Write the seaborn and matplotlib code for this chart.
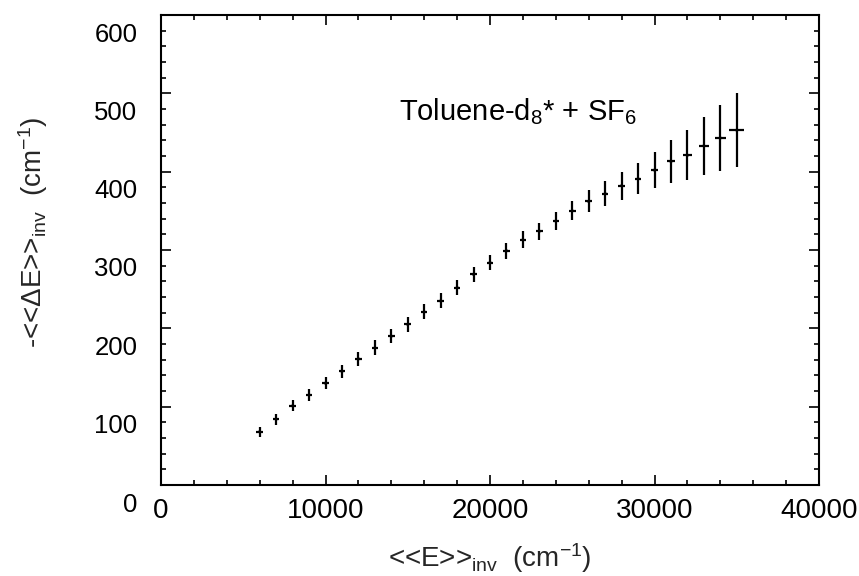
import matplotlib
matplotlib.use('Agg')
import matplotlib.pyplot as plt
import seaborn as sns
import pandas as pd
from matplotlib.ticker import MultipleLocator
from matplotlib.transforms import ScaledTranslation

# ---- data ----
energy = [6000, 7000, 8000, 9000, 10000, 11000, 12000, 13000, 14000, 15000,
          16000, 17000, 18000, 19000, 20000, 21000, 22000, 23000, 24000, 25000,
          26000, 27000, 28000, 29000, 30000, 31000, 32000, 33000, 34000, 35000]
delta_e = [68, 84, 101, 115, 130, 145, 161, 175, 190, 205,
           221, 235, 252, 269, 284, 299, 313, 324, 337, 350,
           362, 372, 382, 391, 402, 413, 421, 433, 443, 453]
delta_err = [6.5, 7, 7, 7.5, 8, 8, 8.5, 9.5, 9, 9.5,
             9.5, 9.5, 9.5, 9.5, 9.6, 10, 11, 11, 11, 12,
             14, 15.5, 18, 20, 23, 27, 32, 37, 42, 47]
energy_err = [200, 200, 200, 200, 200, 200, 200, 200, 200, 200,
              200, 200, 200, 200, 200, 200, 200, 200, 200, 200,
              200, 200, 200, 200, 200, 220, 280, 300, 340, 460]
x_ticks = [0, 10000, 20000, 30000, 40000]
y_ticks = [0, 100, 200, 300, 400, 500, 600]

df = pd.DataFrame({'E': energy, 'dE': delta_e, 'yerr': delta_err, 'xerr': energy_err})

sns.set_theme(style='ticks')
plt.rcParams['font.family'] = ['Liberation Sans', 'DejaVu Sans']
plt.rcParams['mathtext.default'] = 'regular'

fig = plt.figure(figsize=(8.59, 5.76), dpi=100)
ax = fig.add_axes([161/859, 91/576, 658/859, 470/576])

ax.errorbar(df['E'], df['dE'], yerr=df['yerr'], xerr=df['xerr'], fmt='none',
            ecolor='black', elinewidth=1.6, capsize=0)
sns.scatterplot(data=df, x='E', y='dE', ax=ax, color='black', s=5,
                marker='o', edgecolor='none', legend=False)

ax.set_xlim(0, 40000)
ax.set_ylim(0, 600)
ax.set_xticks(x_ticks)
ax.set_yticks(y_ticks)
ax.xaxis.set_minor_locator(MultipleLocator(2000))
ax.yaxis.set_minor_locator(MultipleLocator(20))
ax.tick_params(which='both', direction='in', top=True, right=True,
               width=1.2, color='black', labelcolor='black')
ax.tick_params(which='major', length=7)
ax.tick_params(which='minor', length=3.5)
ax.tick_params(axis='x', pad=9, labelsize=20)
ax.tick_params(axis='y', pad=17, labelsize=18.5)
for s in ax.spines.values():
    s.set_linewidth(1.5)
    s.set_color('black')

ax.set_xlabel('<<E>>$_{inv}$  (cm$^{-1}$)', fontsize=20)
ax.set_ylabel('-<<ΔE>>$_{inv}$  (cm$^{-1}$)', fontsize=20)
ax.xaxis.set_label_coords(0.5, -0.119)
ax.yaxis.set_label_coords(-0.169, 0.538)

ax.text(14450, 466, 'Toluene-d$_8$* + SF$_6$', fontsize=21, va='baseline',
        color='black')

# y tick labels sit a little below their ticks in the reference
offset = ScaledTranslation(0, -0.17, fig.dpi_scale_trans)
for t in ax.yaxis.get_major_ticks():
    t.label1.set_transform(t.label1.get_transform() + offset)

fig.savefig('out.png', dpi=100)
